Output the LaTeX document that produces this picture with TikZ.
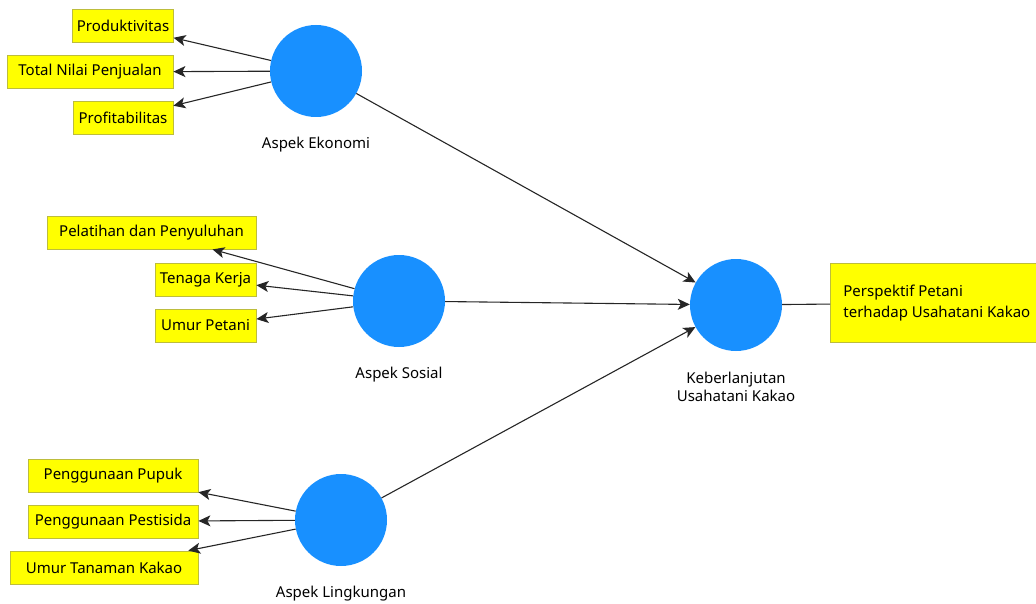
\documentclass[tikz,border=0pt]{standalone}
\usepackage{fontspec}
\setmainfont{Noto Sans}
\usetikzlibrary{arrows.meta,positioning}
\definecolor{birukonstruk}{HTML}{1890FF}
\definecolor{kuningind}{HTML}{FFFF00}
\definecolor{tepiind}{HTML}{BDBD3C}
\tikzset{node distance=20pt,
	konstruk/.style={
		circle,
		fill=birukonstruk,
		minimum size=92pt,
		inner sep=0pt
	},
	indikator/.style={
		draw=tepiind,
		fill=kuningind,
		line width=0.8pt,
		minimum height=33pt,
		inner xsep=4pt,
		font=\fontsize{15}{21}\selectfont
	},
	lbl/.style={
		inner sep=0pt,
		font=\fontsize{15}{18}\selectfont
	},
	every edge/.style={
		draw,
		-{Stealth[length=12pt,width=11pt,inset=3pt]},
		line width=1.1pt,
		black!85
	}
}
\begin{document}
\begin{tikzpicture}[x=1pt,y=-1pt]
		\clip (0,0) rectangle (1036,604);

		% konstruk
		\node[konstruk] (eko) at (316,71) {};
		\node[konstruk] (sos) at (399,301) {};
		\node[konstruk] (ling) at (341,520) {};
		\node[konstruk] (kbl) at (736,305) {};

		\node[lbl, below=of eko] (ekolbl) {Aspek Ekonomi};
		\node[lbl, below=of sos] (soslbl) {Aspek Sosial};
		\node[lbl, below=of ling] (linglbl) {Aspek Lingkungan};
		\node[lbl, below=21pt of kbl, align=center] (kbllbl) {Keberlanjutan\\Usahatani Kakao};

		% indikator
		\node[indikator, minimum width=100] (prod) at (123,26) {Produktivitas};
		\node[indikator, minimum width=166] (tnp) at (90,72) {Total Nilai Penjualan};
		\node[indikator, minimum width=100] (prof) at (123,118) {Profitabilitas};

		\node[indikator, minimum width=209] (pel) at (151.5,232.5) {Pelatihan dan Penyuluhan};
		\node[indikator, minimum width=101] (tk) at (205.5,279.5) {Tenaga Kerja};
		\node[indikator, minimum width=101] (up) at (205.5,325.5) {Umur Petani};

		\node[indikator, minimum width=170] (pupuk) at (113,475.5) {Penggunaan Pupuk};
		\node[indikator, minimum width=170] (pest) at (113,521.5) {Penggunaan Pestisida};
		\node[indikator, minimum width=188] (umtk) at (104,567.5) {Umur Tanaman Kakao};

		\node[indikator, anchor=west, minimum height=79, inner xsep=13pt, align=left] (persp) at (830,303) {Perspektif Petani\\terhadap Usahatani Kakao};

		\draw (eko) edge (prod);
		\draw (eko) edge (tnp);
		\draw (eko) edge (prof);

		\draw (sos) edge (pel);
		\draw (sos) edge (tk);
		\draw (sos) edge (up);

		\draw (ling) edge (pupuk);
		\draw (ling) edge (pest);
		\draw (ling) edge (umtk);

		\draw (eko) edge (kbl);
		\draw (sos) edge (kbl);
		\draw (ling) edge (kbl);
		\draw (kbl) edge[-] (persp);

	\end{tikzpicture}
\end{document}
